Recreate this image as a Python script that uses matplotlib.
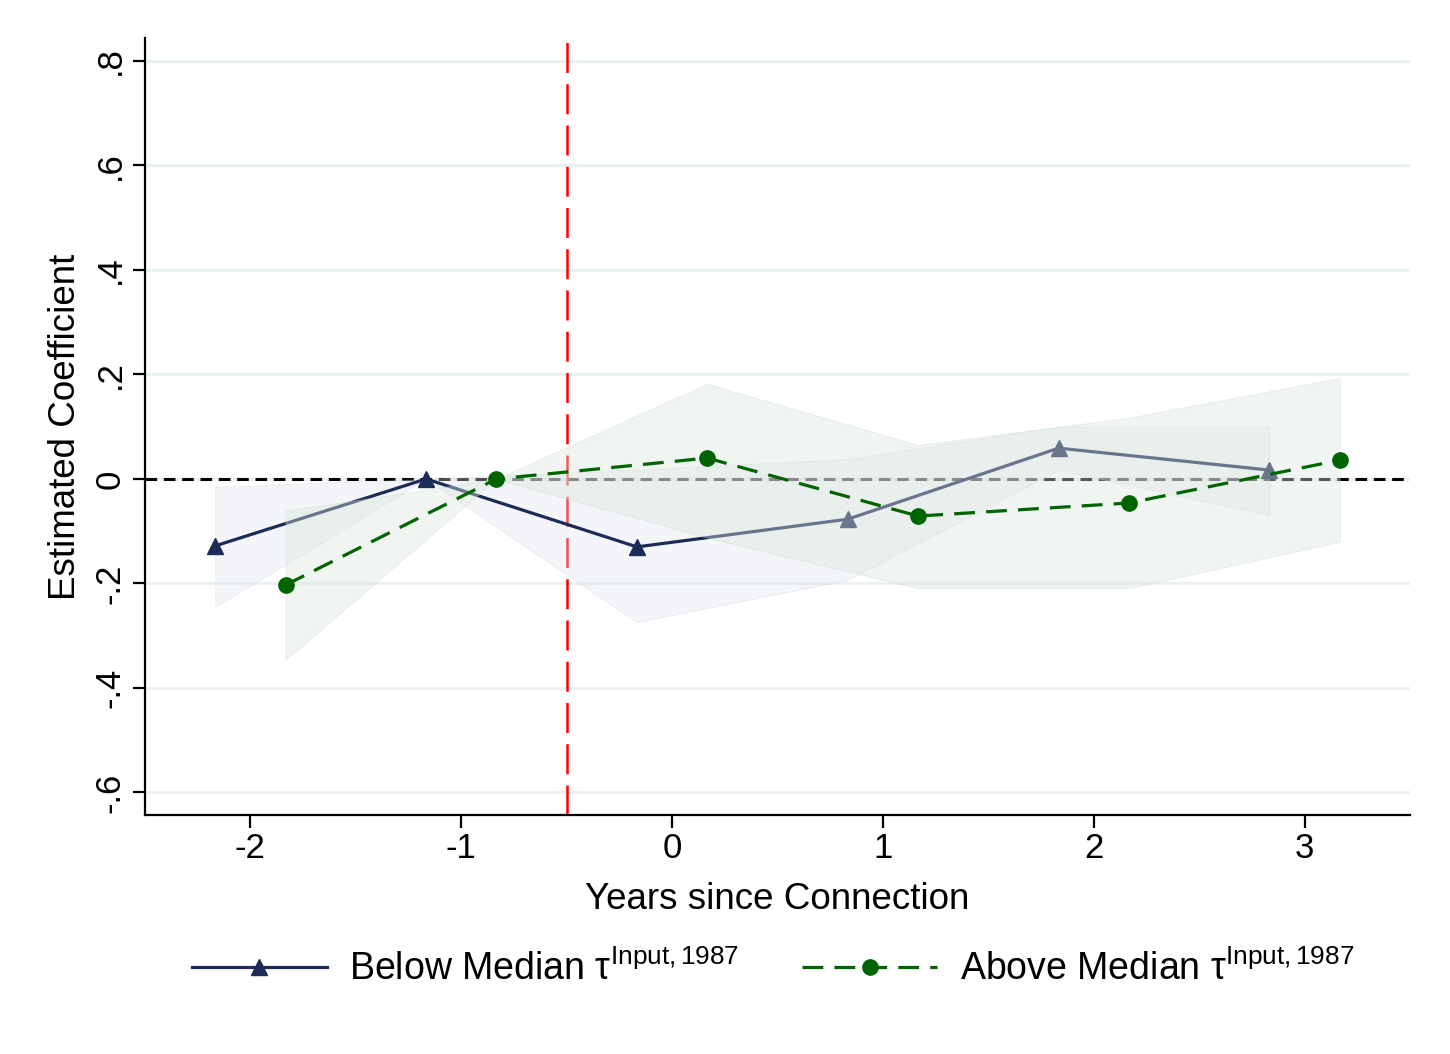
import matplotlib.pyplot as plt
import numpy as np

plt.rcParams['font.family'] = ['Liberation Sans', 'DejaVu Sans']
plt.rcParams['mathtext.fontset'] = 'custom'
plt.rcParams['mathtext.rm'] = 'Liberation Sans'

# event time and estimates
years = [-2, -1, 0, 1, 2, 3]
below = [-0.128, 0.0, -0.130, -0.077, 0.059, 0.017]
below_lo = [-0.245, 0.0, -0.274, -0.193, 0.017, -0.069]
below_hi = [-0.015, 0.0, 0.018, 0.038, 0.100, 0.100]
above = [-0.203, 0.0, 0.040, -0.071, -0.046, 0.036]
above_lo = [-0.346, 0.0, -0.112, -0.209, -0.209, -0.120]
above_hi = [-0.061, 0.0, 0.182, 0.065, 0.117, 0.193]
yticks = [-0.6, -0.4, -0.2, 0, 0.2, 0.4, 0.6, 0.8]
yticklabels = ['-.6', '-.4', '-.2', '0', '.2', '.4', '.6', '.8']
labels = [r'Below Median τ$^{\mathrm{Input{,}\,1987}}$',
          r'Above Median τ$^{\mathrm{Input{,}\,1987}}$']

navy = '#1c2b57'
green = '#006400'
shift = 1 / 6
xb = np.array(years) - shift
xa = np.array(years) + shift

fig = plt.figure(figsize=(14.5, 10.54), dpi=100)
ax = fig.add_axes([0.1, 0.2268, 0.8724, 0.7372])

for y in yticks:
    ax.axhline(y, color='#e9f1f2', lw=2.2, zorder=0.5)
ax.axhline(0, color='black', lw=2.2, dashes=(3.8, 2.2), zorder=1)
ax.axvline(-0.5, color='#ff0000', lw=1.8, dashes=(12, 4.5), zorder=1)

ax.fill_between(xb, below_lo, below_hi, facecolor='#dfe3ec', alpha=0.35,
                edgecolor='#c8ccd6', lw=0.6, zorder=2)
ax.plot(xb, below, color=navy, lw=2.3, marker='^', ms=12, zorder=3,
        label=labels[0])
ax.fill_between(xa, above_lo, above_hi, facecolor='#dce6dc', alpha=0.4,
                edgecolor='#c5d8c5', lw=0.6, zorder=4)
ax.plot(xa, above, color=green, lw=2.3, dashes=(6.5, 3.5), marker='o',
        ms=11, zorder=5, label=labels[1])

ax.set_xlim(-2.5, 3.5)
ax.set_ylim(-0.643, 0.844)
ax.set_xticks(years)
ax.set_xticklabels([str(v) for v in years])
ax.set_yticks(yticks)
ax.set_yticklabels(yticklabels, rotation=90, va='center')
ax.tick_params(labelsize=25, width=1.6, length=9, direction='out')
ax.tick_params(axis='y', pad=4)

for s in ['top', 'right']:
    ax.spines[s].set_visible(False)
for s in ['left', 'bottom']:
    ax.spines[s].set_linewidth(1.6)

ax.set_xlabel('Years since Connection', fontsize=26.5, labelpad=12)
ax.set_ylabel('Estimated Coefficient', fontsize=26.5, labelpad=8)

fig.legend(loc='center', bbox_to_anchor=(0.533, 0.08), ncol=2, frameon=False,
           fontsize=27, handlelength=3.6, columnspacing=1.68, handletextpad=0.6)

fig.savefig('out.png', dpi=100)
